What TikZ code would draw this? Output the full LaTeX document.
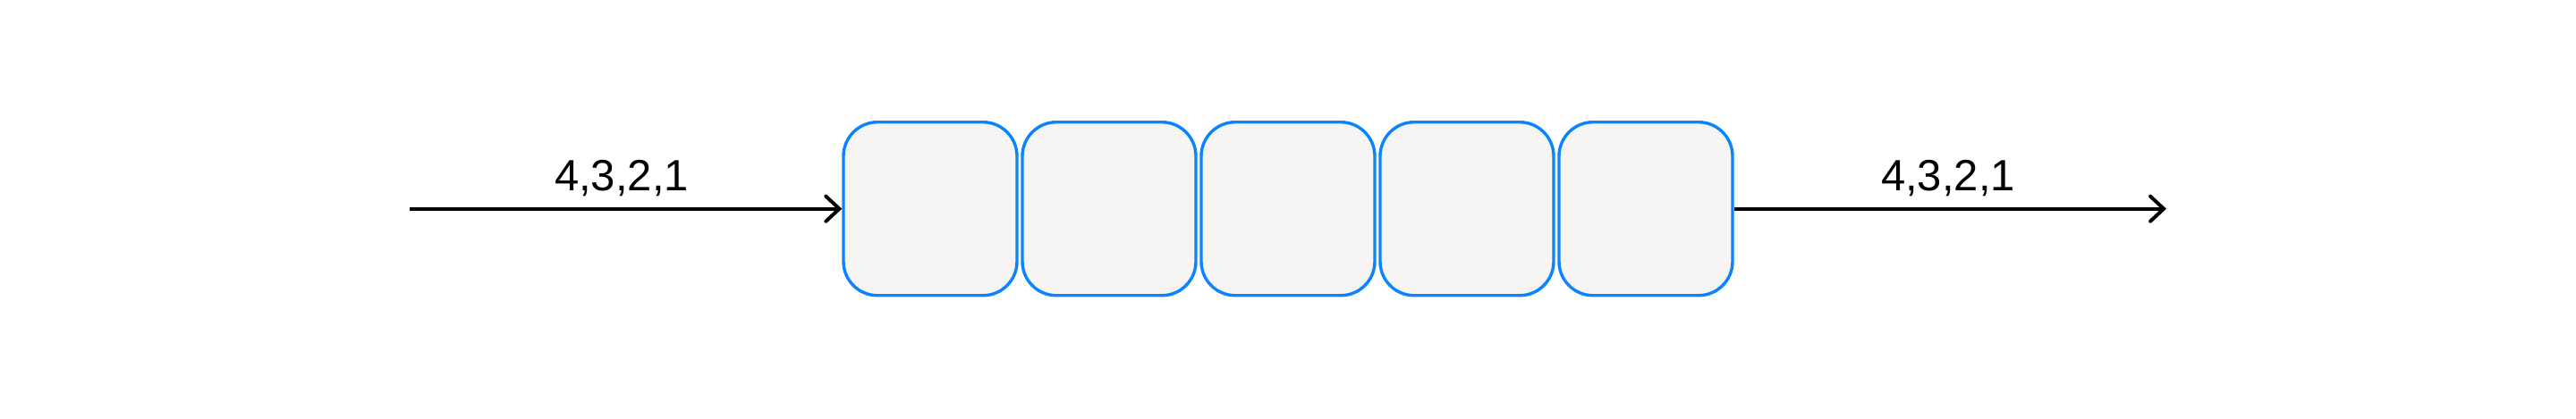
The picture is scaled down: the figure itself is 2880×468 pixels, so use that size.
\documentclass[tikz,border=0pt]{standalone}
\usepackage{fontspec}
\setmainfont{Liberation Sans}
\usetikzlibrary{arrows.meta}
\definecolor{boxblue}{RGB}{10,132,255}
\definecolor{boxfill}{RGB}{246,245,243}
\tikzset{
  qbox/.style={draw=boxblue, fill=boxfill, line width=1.7pt, rounded corners=19pt,
    minimum width=97pt, minimum height=97pt, inner sep=0pt},
  flow/.style={draw=black, line width=2pt,
    -{Straight Barb[length=7.5pt, width=14pt, line width=2pt, line cap=round]}},
  lbl/.style={anchor=base, inner sep=0pt, font=\fontsize{24.5pt}{29pt}\selectfont}
}
\begin{document}
\begin{tikzpicture}[x=0.5pt, y=-0.5pt]
\useasboundingbox (0,0) rectangle (2880,468);
\node[qbox] (b1) at (1040,233.7) {};
\node[qbox] (b2) at (1240,233.7) {};
\node[qbox] (b3) at (1440,233.7) {};
\node[qbox] (b4) at (1640,233.7) {};
\node[qbox] (b5) at (1840,233.7) {};
\coordinate (src) at (458,233.7);
\coordinate (dst) at (2422,233.7);
\draw[flow] (src) -- (b1.west);
\draw[flow] (b5.east) -- (dst);
\node[lbl] (inlbl) at (695,213) {4,3,2,1};
\node[lbl] (outlbl) at (2178,213) {4,3,2,1};
\end{tikzpicture}
\end{document}
